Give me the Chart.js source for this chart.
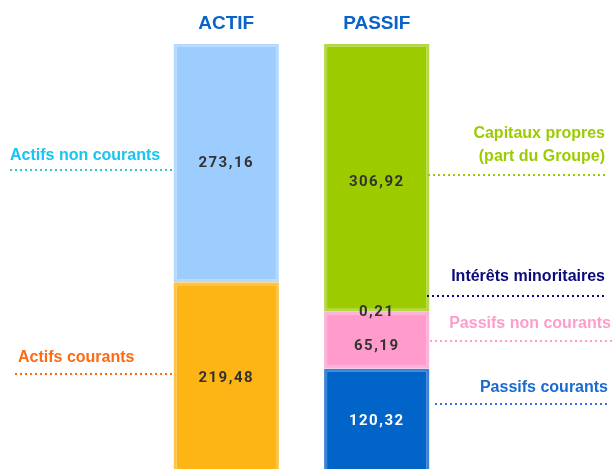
<!DOCTYPE html>
<html>
<head>
<meta charset="utf-8">
<script src="https://cdn.jsdelivr.net/npm/chart.js@4.4.1/dist/chart.umd.min.js"></script>
<style>
  html, body { margin: 0; padding: 0; background: #fff; }
  #wrap { width: 613px; height: 469px; position: relative; }
</style>
</head>
<body>
<div id="wrap"><canvas id="bilan"></canvas></div>
<script>
// Données du bilan (M€)
const categories = ['ACTIF', 'PASSIF'];
const actifCourants = [219.48, null];
const actifsNonCourants = [273.16, null];
const passifsCourants = [null, 120.32];
const passifsNonCourants = [null, 65.19];
const interetsMinoritaires = [null, 0.21];
const capitauxPropres = [null, 306.92];

// Libellés latéraux : texte, couleur, côté, y du texte, y du pointillé, x début/fin du pointillé
const sideLabels = [
    { text: ['Actifs non courants'], color: '#18c4f0', dot: '#2ecbc6', side: 'left', x: 10, y: [156], lineY: 170, x1: 10, x2: 172 },
    { text: ['Actifs courants'], color: '#ff6a10', dot: '#ff6a10', side: 'left', x: 18, y: [358], lineY: 374, x1: 15, x2: 174 },
    { text: ['Capitaux propres', '(part du Groupe)'], color: '#9ccc00', dot: '#9ccc00', side: 'right', x: 605, y: [134, 157], lineY: 175, x1: 428, x2: 606 },
    { text: ['Intérêts minoritaires'], color: '#0a0a78', dot: '#0a0a78', side: 'right', x: 605, y: [277], lineY: 296, x1: 427, x2: 606 },
    { text: ['Passifs non courants'], color: '#ff9ccc', dot: '#ff9ccc', side: 'right', x: 611, y: [324], lineY: 341, x1: 430, x2: 613 },
    { text: ['Passifs courants'], color: '#1a6ad0', dot: '#3a6cf0', side: 'right', x: 608, y: [388], lineY: 404, x1: 435, x2: 607 }
];

const fmt = v => v.toFixed(2).replace('.', ',');

// Valeurs au centre de chaque segment
const valueLabels = {
    id: 'valueLabels',
    afterDatasetsDraw(chart) {
        const ctx = chart.ctx;
        ctx.save();
        ctx.font = 'bold 15px Roboto, "Open Sans", sans-serif';
        ctx.letterSpacing = '1.5px';
        ctx.textAlign = 'center';
        ctx.textBaseline = 'middle';
        chart.data.datasets.forEach((ds, i) => {
            const meta = chart.getDatasetMeta(i);
            ds.data.forEach((v, j) => {
                if (v == null) return;
                const el = meta.data[j];
                const top = Math.max(el.y, chart.chartArea.top);
                const bot = Math.min(el.base, chart.chartArea.bottom + 5);
                ctx.fillStyle = ds.valueColor || '#333333';
                ctx.fillText(fmt(v), el.x, (top + bot) / 2 + (ds.valueOffset || 0));
            });
        });
        ctx.restore();
    }
};

// Libellés et pointillés de part et d'autre
const sideNotes = {
    id: 'sideNotes',
    afterDraw(chart) {
        const ctx = chart.ctx;
        ctx.save();
        ctx.font = 'bold 16px "Liberation Sans", Arial, sans-serif';
        ctx.textBaseline = 'middle';
        sideLabels.forEach(s => {
            ctx.fillStyle = s.color;
            ctx.textAlign = s.side === 'left' ? 'left' : 'right';
            s.text.forEach((t, k) => ctx.fillText(t, s.x, s.y[k]));
            ctx.strokeStyle = s.dot;
            ctx.lineWidth = 2;
            ctx.setLineDash([2, 3]);
            ctx.beginPath();
            ctx.moveTo(s.x1, s.lineY);
            ctx.lineTo(s.x2, s.lineY);
            ctx.stroke();
        });
        ctx.restore();
    }
};

const seg = (label, data, bg, border, extra = {}) => ({
    label: label, data: data, backgroundColor: bg, borderColor: border,
    borderWidth: 3, borderSkipped: false, barPercentage: 0.7, categoryPercentage: 1,
    ...extra
});

new Chart(document.getElementById('bilan'), {
    type: 'bar',
    data: {
        labels: categories,
        datasets: [
            seg('Actifs courants', actifCourants, '#fdb515', '#fdc246'),
            seg('Actifs non courants', actifsNonCourants, '#9dcdff', '#b5d9ff'),
            seg('Passifs courants', passifsCourants, '#0064c8', '#3a84d6', { valueColor: '#ffffff' }),
            seg('Passifs non courants', passifsNonCourants, '#ff9ccc', '#ffb2d8', { valueOffset: 6 }),
            seg('Intérêts minoritaires', interetsMinoritaires, '#9ccc00', '#b3d944'),
            seg('Capitaux propres', capitauxPropres, '#9ccc00', '#b3d944', { valueOffset: 5 })
        ]
    },
    options: {
        responsive: true,
        maintainAspectRatio: false,
        animation: false,
        layout: { padding: { top: 3, bottom: 0, left: 151, right: 161 } },
        plugins: { legend: { display: false }, tooltip: { enabled: false } },
        scales: {
            x: {
                position: 'top',
                stacked: true,
                grid: { display: false, drawTicks: false },
                border: { display: false },
                ticks: { color: '#0a64c8', padding: 9, font: { family: '"Liberation Sans", Arial, sans-serif', size: 19, weight: 'bold' } }
            },
            y: {
                stacked: true,
                display: false,
                min: 5.5,
                max: 492.64
            }
        }
    },
    plugins: [valueLabels, sideNotes]
});
</script>
</body>
</html>
